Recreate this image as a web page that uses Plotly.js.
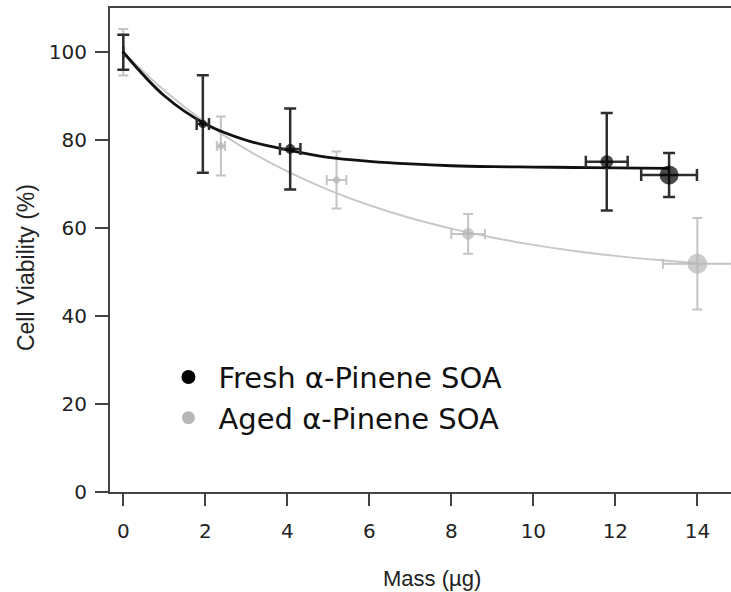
<!DOCTYPE html>
<html>
<head>
<meta charset="utf-8">
<script src="https://cdn.plot.ly/plotly-3.0.1.min.js"></script>
<style>
  html, body { margin: 0; padding: 0; background: #fff; overflow: hidden; }
  #chart { width: 731px; height: 592px; }
</style>
</head>
<body>
<div id="chart"></div>
<script>
// ---- Data ----
const freshMass        = [0, 1.94, 4.07, 11.79, 13.31];
const freshMassErr     = [0, 0.15, 0.25, 0.51, 0.68];
const freshViability   = [100, 83.7, 78.0, 75.1, 72.1];
const freshViabErr     = [4.0, 11.1, 9.2, 11.1, 5.0];
const freshMarkerSize  = [3, 8, 10, 13, 19];

const agedMass         = [0, 2.38, 5.20, 8.41, 14.0];
const agedMassErr      = [0, 0.10, 0.24, 0.41, 0.84];
const agedViability    = [100, 78.7, 70.95, 58.7, 51.9];
const agedViabErr      = [5.3, 6.7, 6.5, 4.5, 10.4];
const agedMarkerSize   = [3, 7, 7, 12, 20];

// fitted curves
const freshFitMass      = [0, 1, 2, 3, 4, 5, 6, 7, 8, 9, 10, 11, 12, 13.3];
const freshFitViability = [100, 90.1, 83.7, 80.0, 77.8, 76.1, 75.2, 74.6, 74.2, 74.0, 73.9, 73.8, 73.7, 73.6];
const agedFitMass       = [0, 1, 2, 3, 4, 5, 6, 7, 8, 9, 10, 11, 12, 13, 14];
const agedFitViability  = [100, 91.3, 84.0, 77.9, 72.9, 68.7, 65.2, 62.3, 59.9, 57.9, 56.2, 54.8, 53.7, 52.8, 52.0];

const xTicks = [0, 2, 4, 6, 8, 10, 12, 14];
const yTicks = [0, 20, 40, 60, 80, 100];
const legendNames = ['Fresh \u03b1-Pinene SOA', 'Aged \u03b1-Pinene SOA'];
const xTitle = 'Mass (\u00b5g)';
const yTitle = 'Cell Viability (%)';

const BLACK = '#000000', BLACK_ERR = '#2e2e2e';
const GREY = '#b7b7b7', GREY_ERR = '#c4c4c4';
const FONT = 'DejaVu Sans, Liberation Sans, Arial, sans-serif';
const TITLE_FONT = 'Liberation Sans, Arial, sans-serif';

const traces = [
  { x: agedFitMass, y: agedFitViability, mode: 'lines', type: 'scatter',
    line: { color: '#c8c8c8', width: 2, shape: 'spline', smoothing: 1 },
    hoverinfo: 'skip', showlegend: false },
  { x: agedMass, y: agedViability, mode: 'markers', type: 'scatter',
    marker: { color: GREY, size: agedMarkerSize, line: { width: 0 } },
    error_y: { type: 'data', array: agedViabErr, visible: true, color: GREY_ERR, thickness: 2, width: 5 },
    error_x: { type: 'data', array: agedMassErr, visible: true, color: GREY_ERR, thickness: 2, width: 5 },
    showlegend: false },
  { x: freshFitMass, y: freshFitViability, mode: 'lines', type: 'scatter',
    line: { color: '#111111', width: 2.8, shape: 'spline', smoothing: 1 },
    hoverinfo: 'skip', showlegend: false },
  { x: freshMass, y: freshViability, mode: 'markers', type: 'scatter',
    marker: { color: BLACK, size: freshMarkerSize, line: { width: 0 } },
    error_y: { type: 'data', array: freshViabErr, visible: true, color: BLACK_ERR, thickness: 2.5, width: 6 },
    error_x: { type: 'data', array: freshMassErr, visible: true, color: BLACK_ERR, thickness: 2.5, width: 6 },
    showlegend: false },
  // legend entries
  { x: [null], y: [null], mode: 'markers', type: 'scatter', name: legendNames[0],
    marker: { color: BLACK, size: 14, line: { width: 0 } }, showlegend: true },
  { x: [null], y: [null], mode: 'markers', type: 'scatter', name: legendNames[1],
    marker: { color: GREY, size: 13, line: { width: 0 } }, showlegend: true }
];

const layout = {
  width: 731, height: 592,
  margin: { l: 110, r: 0, t: 8, b: 100 },
  paper_bgcolor: '#ffffff', plot_bgcolor: '#ffffff',
  font: { family: FONT, color: '#222222', size: 20 },
  showlegend: true,
  legend: {
    x: 0.078, y: 0.29, xanchor: 'left', yanchor: 'top',
    bgcolor: 'rgba(0,0,0,0)', borderwidth: 0,
    font: { family: FONT, size: 29, color: '#111111' },
    itemwidth: 50, tracegroupgap: 0
  },
  xaxis: {
    range: [-0.324, 14.82],
    tickmode: 'array', tickvals: xTicks, ticktext: xTicks.map(String),
    ticks: 'outside', ticklen: 12, tickwidth: 2, tickcolor: '#444',
    ticklabelstandoff: 8,
    showline: true, linecolor: '#444', linewidth: 2, mirror: true,
    showgrid: false, zeroline: false,
    tickfont: { family: FONT, size: 20, color: '#222' }
  },
  yaxis: {
    range: [0, 110.07],
    tickmode: 'array', tickvals: yTicks, ticktext: yTicks.map(String),
    ticks: 'outside', ticklen: 13, tickwidth: 2, tickcolor: '#444',
    ticklabelstandoff: 4,
    showline: true, linecolor: '#444', linewidth: 2,
    showgrid: false, zeroline: false,
    tickfont: { family: FONT, size: 20, color: '#222' }
  },
  annotations: [
    { text: xTitle, xref: 'paper', yref: 'paper', x: 0.518, y: -0.178,
      xanchor: 'center', yanchor: 'middle', showarrow: false,
      font: { family: TITLE_FONT, size: 22, color: '#222' } },
    { text: yTitle, xref: 'paper', yref: 'paper', x: -0.135, y: 0.463,
      xanchor: 'center', yanchor: 'middle', showarrow: false, textangle: -90,
      font: { family: TITLE_FONT, size: 23, color: '#222' } }
  ]
};

Plotly.newPlot('chart', traces, layout, { displayModeBar: false, staticPlot: true });
</script>
</body>
</html>
